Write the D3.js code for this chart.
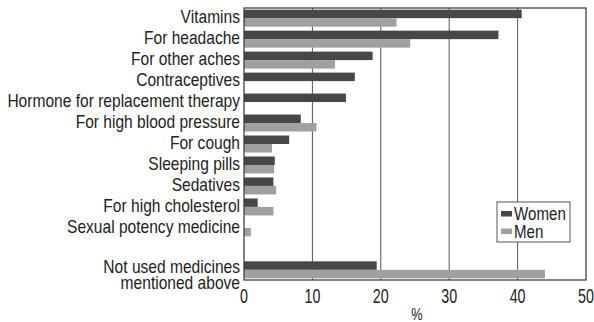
<!DOCTYPE html>
<html>
<head>
<meta charset="utf-8">
<script src="https://cdn.jsdelivr.net/npm/d3@7"></script>
<style>
  html, body { margin: 0; padding: 0; background: #fff; }
  svg { display: block; font-family: "Liberation Sans", Arial, sans-serif; }
</style>
</head>
<body>
<svg id="chart" width="594" height="322"></svg>
<script>
// Medicine use in the past period, by sex (%)
const categories = [
  "Vitamins",
  "For headache",
  "For other aches",
  "Contraceptives",
  "Hormone for replacement therapy",
  "For high blood pressure",
  "For cough",
  "Sleeping pills",
  "Sedatives",
  "For high cholesterol",
  "Sexual potency medicine",
  "Not used medicines mentioned above"
];
const women = [40.6, 37.2, 18.8, 16.2, 14.9, 8.3, 6.6, 4.5, 4.3, 2.0, 0, 19.4];
const men   = [22.3, 24.3, 13.3, 0, 0, 10.6, 4.1, 4.4, 4.7, 4.3, 1.0, 44.0];
const seriesNames = ["Women", "Men"];
const xTicks = [0, 10, 20, 30, 40, 50];

const colors = { Women: "#474747", Men: "#a0a0a0" };

const svg = d3.select("#chart");
const plotLeft = 244, plotRight = 586, plotTop = 8, plotBottom = 280;

// A blank slot separates the last category from the others
const slots = categories.slice(0, -1).concat(["__gap__", categories[categories.length - 1]]);

const x = d3.scaleLinear().domain([0, 50]).range([plotLeft, plotRight]);
const y = d3.scaleBand().domain(slots).range([plotTop, plotBottom]).paddingInner(0.19).paddingOuter(0.08);
const ySub = d3.scaleBand().domain(seriesNames).range([0, y.bandwidth()]);

// condensed text: draw a normal face squeezed horizontally around its anchor
function condensed(sel, ax, ay, sx) {
  return sel.append("g").attr("transform", `translate(${ax},${ay}) scale(${sx},1)`);
}

// gridlines
svg.append("g").selectAll("line")
  .data(xTicks.slice(1, -1))
  .join("line")
  .attr("x1", d => x(d)).attr("x2", d => x(d))
  .attr("y1", plotTop).attr("y2", plotBottom)
  .attr("stroke", "#555").attr("stroke-width", 1);

// bars
const rows = categories.map((c, i) => ({ c, Women: women[i], Men: men[i] }));
const g = svg.append("g");
rows.forEach(r => {
  seriesNames.forEach(s => {
    if (r[s] > 0) {
      g.append("rect")
        .attr("x", x(0))
        .attr("y", y(r.c) + ySub(s))
        .attr("width", x(r[s]) - x(0))
        .attr("height", ySub.bandwidth())
        .attr("fill", colors[s]);
    }
  });
});

// frame
svg.append("rect")
  .attr("x", plotLeft).attr("y", plotTop)
  .attr("width", plotRight - plotLeft).attr("height", plotBottom - plotTop)
  .attr("fill", "none").attr("stroke", "#333").attr("stroke-width", 1.2);

// x axis labels (condensed)
xTicks.forEach(t => {
  condensed(svg, x(t), plotBottom + 23, 0.68)
    .append("text")
    .attr("text-anchor", "middle").attr("font-size", 21).attr("fill", "#222")
    .text(d3.format("d")(t));
});

condensed(svg, 417, 319.5, 0.8)
  .append("text")
  .attr("text-anchor", "middle").attr("font-size", 16).attr("fill", "#222")
  .text("%");

// category labels
categories.forEach((c, i) => {
  const cy = y(c) + y.bandwidth() / 2;
  if (i === categories.length - 1) {
    const t = condensed(svg, 240, cy + 3, 0.89)
      .append("text").attr("text-anchor", "end").attr("font-size", 17.5).attr("fill", "#222");
    t.append("tspan").attr("x", 0).attr("dy", 0).text("Not used medicines");
    t.append("tspan").attr("x", 0).attr("dy", 16).text("mentioned above");
  } else {
    condensed(svg, 240, cy + 5, 0.89)
      .append("text").attr("text-anchor", "end").attr("font-size", 17.5).attr("fill", "#222")
      .text(c);
  }
});

// legend
const lg = svg.append("g");
lg.append("rect").attr("x", 497).attr("y", 202).attr("width", 73).attr("height", 40)
  .attr("fill", "#fff").attr("stroke", "#555").attr("stroke-width", 1);
seriesNames.forEach((s, i) => {
  lg.append("rect").attr("x", 501).attr("y", 211 + i * 17.5).attr("width", 11).attr("height", 5.5).attr("fill", colors[s]);
  condensed(lg, 514, 220 + i * 17.5, 0.84)
    .append("text").attr("font-size", 18).attr("fill", "#222").text(s);
});
</script>
</body>
</html>
